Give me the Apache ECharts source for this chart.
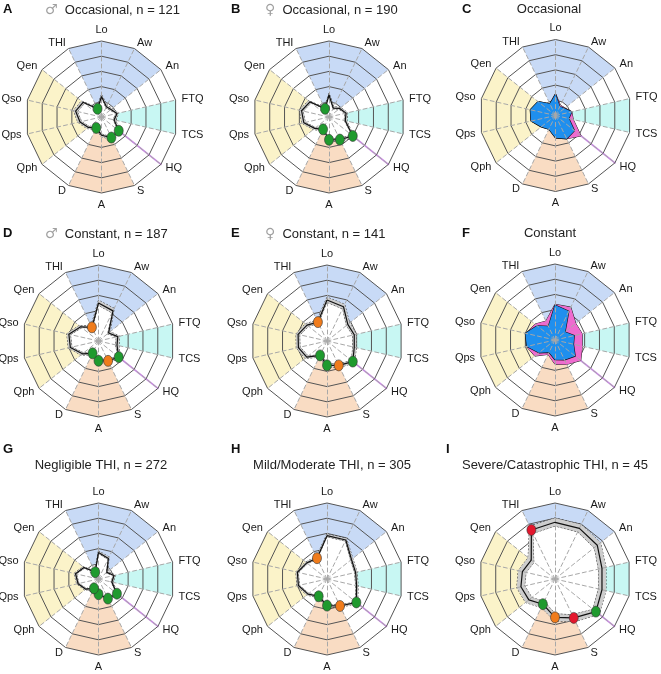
<!DOCTYPE html>
<html><head><meta charset="utf-8">
<script src="https://cdn.jsdelivr.net/npm/echarts@6/dist/echarts.min.js"></script>
<style>html,body{margin:0;padding:0;background:#fff}#c{width:661px;height:674px}</style>
</head><body><div id="c"></div>
<script>
// axes, clockwise from the top
const axes = ['Lo','Aw','An','FTQ','TCS','HQ','S','A','D','Qph','Qps','Qso','Qen','THI'];

// shaded axis groups
const blueGroup   = ['THI','Lo','Aw','An'];
const cyanGroup   = ['FTQ','TCS'];
const peachGroup  = ['S','A','D'];
const yellowGroup = ['Qen','Qso','Qps','Qph'];
const hqGroup     = ['HQ'];

// values in grid-ring units (0-5), order as in `axes`
// A: male, occasional
const maleOccMean = [1.35,0.75,0.80,1.05,0.85,1.45,1.50,1.20,0.80,1.10,1.45,1.75,1.55,0.60];
const maleOccLow  = [1.22,0.64,0.69,0.94,0.74,1.33,1.38,1.09,0.70,0.98,1.31,1.60,1.41,0.50];
const maleOccHigh = [1.48,0.86,0.91,1.16,0.96,1.57,1.62,1.31,0.90,1.22,1.59,1.90,1.69,0.70];
const maleOccSig  = ['','','','','','g','g','','g','','','','','g'];
// B: female, occasional
const femOccMean = [1.45,0.65,0.90,1.15,1.10,2.00,1.65,1.50,0.90,1.20,1.70,1.85,1.60,0.60];
const femOccLow  = [1.33,0.55,0.80,1.04,0.99,1.88,1.54,1.39,0.80,1.08,1.57,1.71,1.47,0.50];
const femOccHigh = [1.57,0.75,1.00,1.26,1.21,2.12,1.76,1.61,1.00,1.32,1.83,1.99,1.73,0.70];
const femOccSig  = ['','','','','','g','g','g','g','','','','','g'];
// C: occasional, male (blue) vs female (pink)
const occBlue = [1.40,0.65,0.75,1.10,0.90,1.60,1.70,1.47,1.00,1.20,1.65,1.70,1.47,0.85];
const occPink = [1.45,0.75,0.80,1.10,1.20,2.15,1.70,1.47,1.00,1.20,1.65,1.70,1.47,0.85];
// D: male, constant
const maleConMean = [2.50,2.20,0.85,1.30,1.25,1.70,1.45,1.30,0.90,1.35,1.90,2.00,1.50,1.00];
const maleConLow  = [2.32,2.02,0.72,1.17,1.12,1.57,1.32,1.17,0.78,1.22,1.76,1.86,1.37,0.88];
const maleConHigh = [2.68,2.38,0.98,1.43,1.38,1.83,1.58,1.43,1.02,1.48,2.04,2.14,1.63,1.12];
const maleConSig  = ['','','','','','g','o','g','g','','','','','o'];
// E: female, constant
const femConMean = [2.70,2.50,1.75,1.84,1.84,2.17,1.78,1.60,1.05,1.70,1.93,1.95,1.68,1.38];
const femConLow  = [2.52,2.32,1.60,1.70,1.70,2.03,1.64,1.46,0.92,1.56,1.79,1.81,1.54,1.24];
const femConHigh = [2.88,2.68,1.90,1.98,1.98,2.31,1.92,1.74,1.18,1.84,2.07,2.09,1.82,1.52];
const femConSig  = ['','','','','','g','o','g','g','','','','','o'];
// F: constant, male (blue) vs female (pink)
const conBlue = [2.30,2.10,0.85,1.30,1.25,1.70,1.45,1.30,0.90,1.35,1.90,2.00,1.50,1.00];
const conPink = [2.35,2.40,1.75,1.84,1.84,2.17,1.78,1.60,1.05,1.70,1.93,1.95,1.68,1.38];
// G: negligible THI
const negMean = [1.75,1.50,0.70,1.05,0.90,1.55,1.43,1.00,0.68,1.07,1.38,1.55,1.22,0.50];
const negLow  = [1.65,1.40,0.61,0.96,0.81,1.46,1.34,0.91,0.60,0.98,1.29,1.45,1.13,0.42];
const negHigh = [1.85,1.60,0.79,1.14,0.99,1.64,1.52,1.09,0.76,1.16,1.47,1.65,1.31,0.58];
const negSig  = ['','','','','','g','g','g','g','','','','','g'];
// H: mild/moderate THI
const mildMean = [2.85,2.85,2.06,1.93,2.00,2.47,1.97,1.75,1.26,1.60,1.93,2.00,1.70,1.52];
const mildLow  = [2.74,2.74,1.95,1.83,1.90,2.37,1.87,1.65,1.16,1.50,1.83,1.90,1.60,1.42];
const mildHigh = [2.96,2.96,2.17,2.03,2.10,2.57,2.07,1.85,1.36,1.70,2.03,2.10,1.80,1.62];
const mildSig  = ['','','','','','g','o','g','g','','','','','o'];
// I: severe/catastrophic THI
const sevMean = [3.73,3.70,3.56,3.17,3.17,3.44,2.84,2.52,1.84,2.20,2.30,2.20,2.00,3.58];
const sevLow  = [3.45,3.42,3.28,2.90,2.90,3.16,2.58,2.26,1.60,1.92,2.02,1.92,1.74,3.30];
const sevHigh = [4.01,3.98,3.84,3.44,3.44,3.72,3.10,2.78,2.08,2.48,2.58,2.48,2.26,3.86];
const sevSig  = ['','','','','','g','r','o','g','','','','','r'];

const FONT = '"Liberation Sans", Arial, "DejaVu Sans", sans-serif';
const R = 76;
const MAX = 5;
const N = axes.length;
// ECharts radar places indicators counter-clockwise: reorder clockwise data
const ccw = arr => arr.map((_, k) => arr[(N - k) % N]);
const sigColor = {g:'#1f9a2e', o:'#f07c1c', r:'#e3172d'};
const groups = [
  {axes: blueGroup,   color:'#c8daf6'},
  {axes: cyanGroup,   color:'#c8f7f3'},
  {axes: peachGroup,  color:'#f9dcc3'},
  {axes: yellowGroup, color:'#fbf3c9'}
];

const panels = [
  {letter:'A', lx:3,   ly:3,   sym:'♂', title:'Occasional, n = 121', tx:45,  ty:3,   c:[101.5,117], mean:maleOccMean, low:maleOccLow, high:maleOccHigh, sig:maleOccSig},
  {letter:'B', lx:231, ly:3,   sym:'♀', title:'Occasional, n = 190', tx:265, ty:3,   c:[329,117],   mean:femOccMean, low:femOccLow, high:femOccHigh, sig:femOccSig},
  {letter:'C', lx:462, ly:3,   title:'Occasional', tcx:549, ty:3, c:[555.5,115.5], blue:occBlue, pink:occPink},
  {letter:'D', lx:3,   ly:227, sym:'♂', title:'Constant, n = 187', tx:45, ty:227, c:[98.5,341], mean:maleConMean, low:maleConLow, high:maleConHigh, sig:maleConSig},
  {letter:'E', lx:231, ly:227, sym:'♀', title:'Constant, n = 141', tx:265, ty:227, c:[327,341], mean:femConMean, low:femConLow, high:femConHigh, sig:femConSig},
  {letter:'F', lx:462, ly:227, title:'Constant', tcx:550, ty:227, c:[555,340], blue:conBlue, pink:conPink},
  {letter:'G', lx:3,   ly:443, title:'Negligible THI, n = 272', tcx:101, ty:459, c:[98.5,579], mean:negMean, low:negLow, high:negHigh, sig:negSig},
  {letter:'H', lx:231, ly:443, title:'Mild/Moderate THI, n = 305', tcx:332, ty:459, c:[327,579], mean:mildMean, low:mildLow, high:mildHigh, sig:mildSig},
  {letter:'I', lx:446, ly:443, title:'Severe/Catastrophic THI, n = 45', tcx:555, ty:459, c:[555,579], mean:sevMean, low:sevLow, high:sevHigh, sig:sevSig}
];

const indicator = ccw(axes).map(n => ({name:n, min:0, max:MAX}));
const radars = [], polars = [], angleAxes = [], radiusAxes = [], series = [], titles = [];

panels.forEach((p, i) => {
  const gridIdx = 2*i, spokeIdx = 2*i + 1;
  radars.push({
    center:p.c, radius:R, startAngle:90, shape:'polygon', splitNumber:5, indicator,
    z:4, nameGap:6,
    axisName:{color:'#1a1a1a', fontSize:11, fontFamily:FONT},
    splitLine:{lineStyle:{color:'#555', width:1}},
    splitArea:{show:false}, axisLine:{show:false}, axisTick:{show:false}, axisLabel:{show:false}
  });
  radars.push({
    center:p.c, radius:R, startAngle:90, shape:'polygon', splitNumber:5, indicator,
    z:8, axisName:{show:false},
    splitLine:{show:false}, splitArea:{show:false},
    axisLine:{show:true, lineStyle:{color:'#a8a8a8', width:1, type:[4,3]}},
    axisTick:{show:false}, axisLabel:{show:false}
  });
  polars.push({center:p.c, radius:R});
  angleAxes.push({polarIndex:i, type:'value', min:0, max:N, startAngle:90, clockwise:true, show:false});
  radiusAxes.push({polarIndex:i, type:'value', min:0, max:MAX, show:false});

  // shaded sectors
  series.push({
    type:'radar', radarIndex:gridIdx, z:1, symbol:'none', silent:true,
    data: groups.map(g => ({
      value: ccw(axes.map(a => g.axes.includes(a) ? MAX : 0)),
      lineStyle:{opacity:0}, areaStyle:{color:g.color, opacity:1}
    }))
  });
  // HQ line
  series.push({
    type:'radar', radarIndex:gridIdx, z:2, symbol:'none', silent:true,
    data:[{value: ccw(axes.map(a => hqGroup.includes(a) ? MAX : 0)), lineStyle:{color:'#c98be3', width:1.6}}]
  });
  // inner white ring
  series.push({
    type:'radar', radarIndex:gridIdx, z:3, symbol:'none', silent:true,
    data:[{value: ccw(axes.map(() => 1)), lineStyle:{opacity:0}, areaStyle:{color:'#fff', opacity:1}}]
  });

  if (p.blue) {
    series.push({type:'radar', radarIndex:gridIdx, z:5, symbol:'none', silent:true,
      data:[{value:ccw(p.pink), lineStyle:{color:'#222', width:1}, areaStyle:{color:'#ee6bcf', opacity:1}}]});
    series.push({type:'radar', radarIndex:gridIdx, z:6, symbol:'none', silent:true,
      data:[{value:ccw(p.blue), lineStyle:{color:'#111', width:1.2}, areaStyle:{color:'#1f8fee', opacity:1}}]});
  } else {
    series.push({type:'radar', radarIndex:gridIdx, z:5, symbol:'none', silent:true,
      data:[{value:ccw(p.high), lineStyle:{color:'#222', width:0.9, type:[2,1.5]}, areaStyle:{color:'#cdcdcd', opacity:1}}]});
    series.push({type:'radar', radarIndex:gridIdx, z:6, symbol:'none', silent:true,
      data:[{value:ccw(p.low), lineStyle:{color:'#222', width:0.9, type:[2,1.5]}, areaStyle:{color:'#fff', opacity:1}}]});
    series.push({type:'radar', radarIndex:gridIdx, z:9, symbol:'none', silent:true,
      data:[{value:ccw(p.mean), lineStyle:{color:'#111', width:1.2}}]});
    const dots = [];
    p.sig.forEach((s, k) => { if (s) dots.push({value:[p.mean[k], k], itemStyle:{color:sigColor[s]}}); });
    series.push({type:'scatter', coordinateSystem:'polar', polarIndex:i, z:10, silent:true,
      symbol:'circle', symbolSize:[9,11], itemStyle:{borderColor:'#333', borderWidth:0.6, opacity:1}, data:dots});
  }

  titles.push({text:p.letter, left:p.lx, top:p.ly, padding:0, textStyle:{fontSize:13, fontWeight:'bold', color:'#111', fontFamily:FONT}});
  if (p.sym) {
    titles.push({text:'{s|' + p.sym + '}  ' + p.title, left:p.tx, top:p.ty, padding:0,
      textStyle:{fontSize:13, fontWeight:'normal', color:'#222', fontFamily:FONT,
        rich:{s:{fontSize:14, color:'#a0a0a0', fontFamily:'"DejaVu Sans", sans-serif'}}}});
  } else {
    titles.push({text:p.title, left:p.tcx, top:p.ty, padding:0, textAlign:'center',
      textStyle:{fontSize:13, fontWeight:'normal', color:'#222', fontFamily:FONT}});
  }
});

const chart = echarts.init(document.getElementById('c'), null, {renderer:'canvas'});
chart.setOption({
  animation:false,
  backgroundColor:'#fff',
  title:titles,
  radar:radars,
  polar:polars,
  angleAxis:angleAxes,
  radiusAxis:radiusAxes,
  series
});
</script></body></html>
